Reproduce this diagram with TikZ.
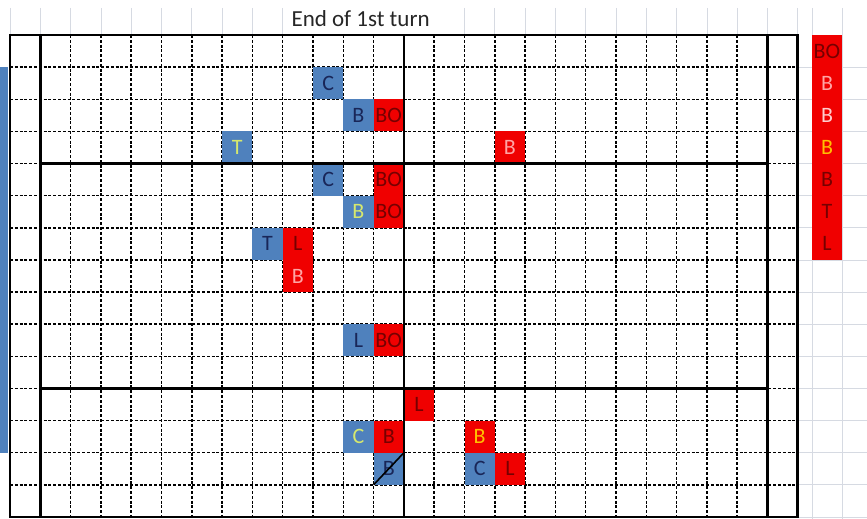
\documentclass[tikz,border=0pt]{standalone}
\usepackage{fontspec}
\setmainfont{Carlito}
\usetikzlibrary{positioning}
\definecolor{xlblue}{RGB}{79,129,189}
\definecolor{xlred}{RGB}{240,0,0}
\definecolor{navytxt}{RGB}{25,38,88}
\definecolor{deeptxt}{RGB}{118,0,0}
\definecolor{pinktxt}{RGB}{255,165,165}
\definecolor{palepink}{RGB}{255,205,205}
\definecolor{limetxt}{RGB}{214,232,110}
\definecolor{goldtxt}{RGB}{255,192,0}
\definecolor{gridgray}{RGB}{214,218,226}
\tikzset{
  bluecell/.style={fill=xlblue, text=navytxt, minimum width=30.3pt, minimum height=32.13pt,
    inner sep=0pt, outer sep=0pt, anchor=north west, font=\fontsize{22}{22}\selectfont},
  redcell/.style={bluecell, fill=xlred, text=deeptxt},
  dotline/.style={line width=1.5pt, dash pattern=on 3pt off 1.8pt},
  boldline/.style={line width=2.8pt},
  sheetline/.style={gridgray, line width=0.8pt}
}
\begin{document}
\begin{tikzpicture}[x=1pt, y=-1pt]
  \useasboundingbox (0,0) rectangle (867,519);
  % Feuille de calcul en fond
  \foreach \i in {0,...,9,15,16,...,26}
    \draw[sheetline] ({10+30.3*\i},8) -- ({10+30.3*\i},35);
  \draw[sheetline] (812,8) -- (812,519);
  \draw[sheetline] (842,8) -- (842,519);
  \foreach \j in {1,...,15}
    \draw[sheetline] (797,{35+32.13*\j}) -- (867,{35+32.13*\j});
  % Titre
  \node[anchor=west, font=\fontsize{23}{23}\selectfont, text=black!85] (title) at (288,19) {End of 1st turn};
  % Bande bleue a gauche
  \fill[xlblue] (0,67) rectangle (8,453);
  \begin{scope}[shift={(10,35)}, x=30.3pt, y=-32.13pt]
    % Quadrillage pointille
    \foreach \j in {1,...,14}
      \draw[dotline] (0,\j) -- (26,\j);
    \foreach \i in {2,...,24}
      \draw[dotline] (\i,0) -- (\i,15);
    % Pions bleus et rouges
    \node[bluecell] (bC1) at (10,1) {C};
    \node[bluecell] (bB2) at (11,2) {B};
    \node[redcell, right=0pt of bB2] (rBO2) {BO};
    \node[bluecell, text=limetxt] (bT3) at (7,3) {T};
    \node[redcell, text=pinktxt] (rB3) at (16,3) {B};
    \node[bluecell] (bC4) at (10,4) {C};
    \node[redcell] (rBO4) at (12,4) {BO};
    \node[redcell, below=0pt of rBO4] (rBO5) {BO};
    \node[bluecell, text=limetxt, left=0pt of rBO5] (bB5) {B};
    \node[bluecell] (bT6) at (8,6) {T};
    \node[redcell, right=0pt of bT6] (rL6) {L};
    \node[redcell, text=pinktxt, below=0pt of rL6] (rB7) {B};
    \node[bluecell] (bL9) at (11,9) {L};
    \node[redcell, right=0pt of bL9] (rBO9) {BO};
    \node[redcell] (rL11) at (13,11) {L};
    \node[bluecell, text=limetxt] (bC12) at (11,12) {C};
    \node[redcell, right=0pt of bC12] (rB12) {B};
    \node[bluecell, below=0pt of rB12] (bB13) {B};
    \node[redcell, text=goldtxt] (rB12b) at (15,12) {B};
    \node[bluecell, below=0pt of rB12b] (bC13) {C};
    \node[redcell, right=0pt of bC13] (rL13) {L};
    % Pion barre
    \draw[line width=1.6pt] (bB13.south west) -- (bB13.north east);
    % Traits epais
    \draw[boldline] (0,0) rectangle (26,15);
    \draw[boldline] (1,0) -- (1,15);
    \draw[boldline] (25,0) -- (25,15);
    \draw[boldline] (13,0) -- (13,15);
    \draw[boldline] (1,4) -- (25,4);
    \draw[boldline] (1,11) -- (25,11);
  \end{scope}
  % Reserve rouge a droite
  \fill[xlred] (812,35) rectangle (842,260);
  \foreach \i/\t/\c in {0/BO/deeptxt, 1/B/pinktxt, 2/B/palepink, 3/B/goldtxt, 4/B/deeptxt, 5/T/deeptxt, 6/L/deeptxt}
    \node[text=\c, font=\fontsize{22}{22}\selectfont, inner sep=0pt] (bank\i) at (827,{51.1+32.13*\i}) {\t};
\end{tikzpicture}
\end{document}
